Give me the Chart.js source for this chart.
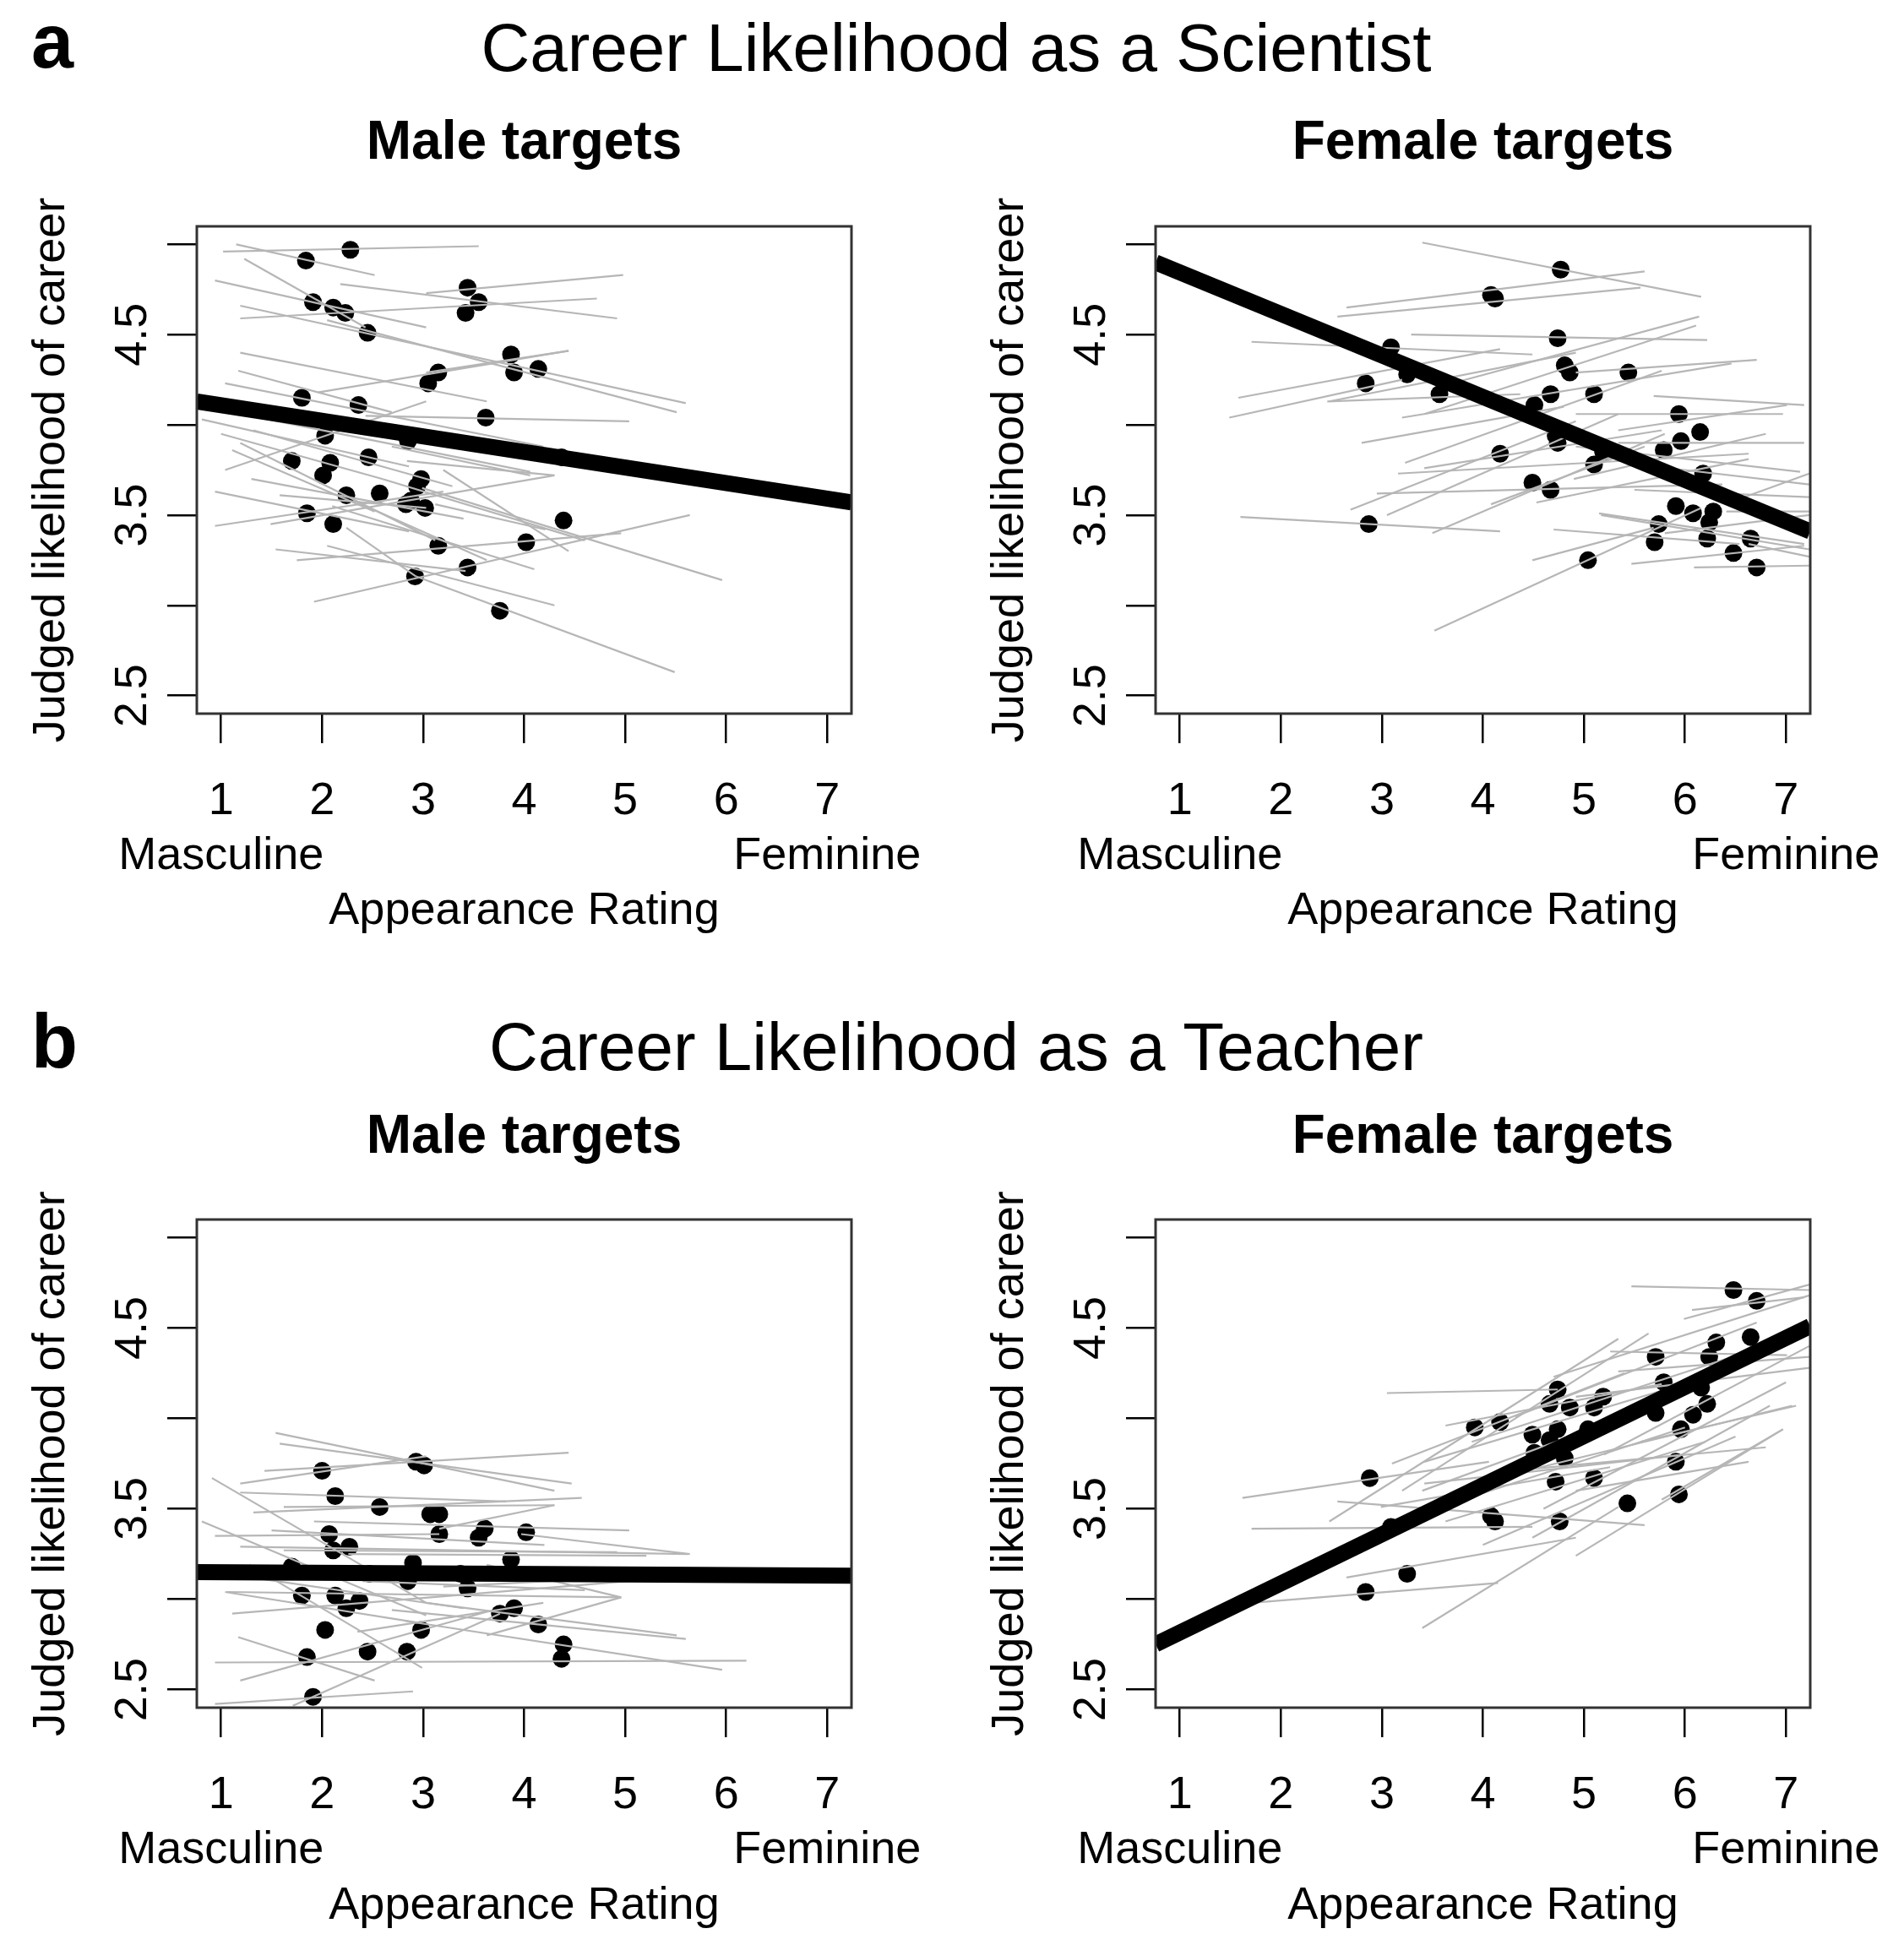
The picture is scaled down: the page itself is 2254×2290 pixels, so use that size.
<!DOCTYPE html>
<html><head><meta charset="utf-8">
<script src="https://cdn.jsdelivr.net/npm/chart.js@4/dist/chart.umd.min.js"></script>
<style>
html,body{margin:0;padding:0;background:#fff;}
body{width:2254px;height:2290px;position:relative;overflow:hidden;font-family:"Liberation Sans",Arial,Helvetica,sans-serif;}
canvas{position:absolute;}
.t{position:absolute;white-space:nowrap;line-height:1;color:#000;}
</style></head><body>
<div class="t" style="left:37px;top:4px;font-size:90px;font-weight:bold;">a</div>
<div class="t" style="left:0;width:2264px;text-align:center;top:17px;font-size:80px;">Career Likelihood as a Scientist</div>
<div class="t" style="left:37px;top:1188px;font-size:90px;font-weight:bold;">b</div>
<div class="t" style="left:0;width:2264px;text-align:center;top:1200px;font-size:80px;">Career Likelihood as a Teacher</div>
<canvas id="c1" width="1118" height="993" style="left:0px;top:120px;"></canvas>
<canvas id="c2" width="1118" height="993" style="left:1135px;top:120px;"></canvas>
<canvas id="c3" width="1118" height="990" style="left:0px;top:1300px;"></canvas>
<canvas id="c4" width="1118" height="990" style="left:1135px;top:1300px;"></canvas>
<script>
// ---------- axis ticks ----------
const xTicks = [1, 2, 3, 4, 5, 6, 7];
const xTickLabels = [["1", "Masculine"], "2", "3", "4", "5", "6", ["7", "Feminine"]];
const yTicks = [2.5, 3.0, 3.5, 4.0, 4.5, 5.0];
const yTickLabels = ["2.5", "", "3.5", "", "4.5", ""];
const xRange = [0.76, 7.24];
const yRange = [2.4, 5.1];

// ---------- (a) Scientist, male targets ----------
const sciMaleX = [2.28,1.84,1.91,2.11,2.23,2.45,3.44,3.55,3.42,3.87,3.90,4.14,3.15,3.05,1.80,2.36,3.62,2.03,2.85,4.37,1.70,2.46,2.08,2.01,2.98,2.94,2.24,2.57,2.88,2.83,3.02,1.85,2.11,4.39,3.15,4.02,3.44,2.92,3.76];
const sciMaleY = [4.97,4.91,4.68,4.65,4.62,4.51,4.76,4.68,4.62,4.39,4.29,4.31,4.29,4.23,4.15,4.11,4.04,3.94,3.91,3.82,3.80,3.82,3.79,3.72,3.70,3.66,3.61,3.62,3.58,3.56,3.54,3.51,3.45,3.47,3.33,3.35,3.21,3.16,2.97];
const sciMaleLines = [
 [1.02,4.96,3.55,4.99],[1.15,5.00,2.52,4.83],[1.23,4.92,2.43,4.54],[0.94,4.80,3.03,4.54],
 [1.19,4.66,5.60,4.12],[1.19,4.59,4.72,4.70],[2.18,4.78,4.92,4.59],[3.03,4.73,4.98,4.83],
 [2.05,4.58,5.51,4.07],[1.96,4.18,4.44,4.41],[1.17,4.30,2.69,4.07],[1.04,4.23,4.19,3.88],
 [2.43,4.05,5.04,4.02],[1.04,3.75,3.03,4.13],[0.81,4.03,2.86,3.77],[1.11,4.07,4.06,3.74],
 [1.32,3.97,3.29,3.66],[1.19,3.90,3.12,3.36],[1.11,3.86,2.52,3.52],[0.94,3.63,2.86,3.41],
 [0.94,3.44,3.20,3.63],[1.49,3.45,4.30,3.72],[1.92,3.02,5.64,3.50],[1.54,3.31,3.42,3.19],
 [1.75,3.25,4.96,3.40],[2.05,3.33,4.30,3.00],[2.24,3.43,2.93,3.16],[2.93,3.16,5.49,2.63],
 [2.99,3.65,5.96,3.14],[2.84,3.80,4.30,3.72],[3.12,3.56,4.21,3.42],[3.20,3.75,4.44,3.30],
 [2.35,3.57,3.63,3.25],[2.69,3.88,4.06,3.72],[1.58,3.61,3.03,3.54],[1.19,4.40,3.63,4.13],
 [3.03,4.29,4.44,4.41],[2.52,3.97,4.40,3.83],[1.30,3.70,3.40,3.48],[2.10,3.55,4.10,3.20],
 [1.00,3.95,2.60,3.70],[2.60,3.70,4.60,3.36]
];
const sciMaleFit = [0.76, 4.13, 7.24, 3.57];

// ---------- (a) Scientist, female targets ----------
const sciFemX = [4.77,4.08,4.12,4.74,3.09,3.25,2.84,4.81,4.86,5.44,4.67,5.10,4.51,5.94,6.15,5.96,4.74,4.72,5.79,4.17,5.10,6.18,4.49,4.67,5.91,6.08,6.28,6.24,5.74,2.87,5.70,6.22,6.65,6.48,6.71,5.04,5.19,3.57];
const sciFemY = [4.86,4.72,4.70,4.48,4.43,4.28,4.23,4.33,4.29,4.29,4.17,4.17,4.11,4.06,3.96,3.91,3.90,3.94,3.86,3.84,3.78,3.73,3.68,3.64,3.55,3.51,3.52,3.46,3.45,3.45,3.35,3.37,3.37,3.29,3.21,3.25,3.85,4.17];
const sciFemLines = [
 [3.40,5.01,6.16,4.71],[2.65,4.65,5.60,4.85],[2.56,4.60,5.56,4.76],[3.29,4.50,6.22,4.47],
 [1.71,4.46,4.49,4.39],[1.58,4.15,4.17,4.42],[1.49,4.04,3.20,4.25],[2.46,4.13,4.37,4.17],
 [2.48,4.13,4.92,4.40],[3.63,4.22,6.14,4.60],[3.42,4.06,6.11,4.55],[4.92,4.29,6.71,4.36],
 [3.20,4.04,6.46,4.34],[4.92,4.06,6.97,4.06],[5.34,3.90,7.18,3.90],[5.34,3.97,7.01,4.11],
 [3.23,3.79,5.77,4.30],[2.69,3.53,4.92,4.02],[3.05,3.50,5.34,4.06],[3.42,3.76,5.77,3.97],
 [3.16,3.73,6.63,3.84],[4.92,3.88,7.14,3.74],[2.95,3.62,6.37,3.67],[4.08,3.56,5.60,3.88],
 [4.53,3.57,6.63,3.81],[5.15,3.51,7.18,3.34],[4.70,3.42,6.54,3.34],[3.52,2.86,6.16,3.54],
 [4.49,3.25,5.69,3.43],[5.47,3.23,7.18,3.33],[6.09,3.21,7.23,3.22],[6.54,3.59,7.23,3.73],
 [1.60,3.49,4.17,3.41],[6.63,3.34,7.23,3.27],[5.17,3.50,7.23,3.31],[6.41,3.52,7.23,3.52],
 [5.69,3.77,7.23,3.67],[5.69,4.16,7.18,4.11],[5.50,3.64,7.23,3.60],[5.80,3.40,7.23,3.50],
 [4.90,3.70,6.80,3.95],[3.50,3.40,5.80,3.95],[2.80,3.90,4.80,4.10]
];
const sciFemFit = [0.76, 4.90, 7.24, 3.41];

// ---------- (b) Teacher, male targets ----------
const eduMaleX = [2.93,3.01,2.00,2.13,2.57,3.07,3.16,2.07,3.16,3.55,3.61,4.02,2.11,2.27,1.70,2.90,3.87,2.47,2.85,3.44,1.80,2.13,2.37,2.24,3.76,3.90,4.14,2.03,2.98,4.39,4.37,1.85,2.45,2.84,1.91,3.37];
const eduMaleY = [3.76,3.74,3.71,3.57,3.51,3.47,3.47,3.36,3.36,3.34,3.39,3.37,3.27,3.29,3.18,3.20,3.22,3.14,3.10,3.06,3.02,3.02,2.99,2.95,2.92,2.95,2.86,2.83,2.83,2.75,2.67,2.68,2.71,2.71,2.46,3.14];
const eduMaleLines = [
 [1.54,3.92,4.30,3.60],[1.58,3.86,4.47,3.64],[1.43,3.71,4.44,3.81],[1.19,3.64,3.03,3.79],
 [1.19,3.59,3.82,3.54],[0.91,3.67,3.03,2.98],[1.32,3.48,4.57,3.56],[1.62,3.51,4.30,3.52],
 [1.92,3.43,5.04,3.38],[0.81,3.43,3.03,2.91],[0.94,3.35,3.16,3.36],[1.19,3.29,5.62,3.25],
 [3.16,3.39,4.30,3.52],[3.97,3.36,5.64,3.25],[2.26,3.25,5.21,3.24],[1.62,3.27,4.92,3.26],
 [1.06,3.04,4.96,3.01],[1.04,3.04,2.95,2.87],[1.11,2.92,5.04,3.10],[2.69,2.94,5.60,2.78],
 [2.82,2.88,5.96,2.61],[0.94,2.65,6.20,2.66],[1.17,2.79,2.52,2.55],[1.19,2.55,3.63,2.93],
 [1.71,2.41,3.76,2.92],[0.94,2.42,2.90,2.49],[3.03,2.98,5.51,2.80],[3.63,2.80,4.96,3.01],
 [2.35,2.82,4.19,2.98],[3.20,3.07,4.96,3.12],[1.28,3.19,2.99,2.62],[3.63,3.19,4.96,3.01],
 [1.50,3.38,4.20,3.30],[2.40,3.10,4.60,3.05],[1.30,3.12,3.40,2.95]
];
const eduMaleFit = [0.76, 3.15, 7.24, 3.13];

// ---------- (b) Teacher, female targets ----------
const eduFemX = [6.48,6.71,6.65,6.31,6.24,5.71,5.79,6.16,4.74,4.66,4.86,5.10,5.19,6.22,6.08,5.96,4.17,3.92,4.74,4.49,4.66,5.04,5.71,4.51,4.81,5.91,2.88,4.72,5.10,5.94,5.43,4.08,4.12,4.76,3.09,3.25,2.84];
const eduFemY = [4.71,4.65,4.45,4.42,4.34,4.34,4.20,4.17,4.16,4.08,4.06,4.06,4.12,4.08,4.02,3.94,3.98,3.95,3.94,3.91,3.88,3.94,4.03,3.81,3.78,3.76,3.67,3.65,3.67,3.58,3.53,3.46,3.43,3.43,3.40,3.14,3.04];
const eduFemLines = [
 [5.47,4.73,7.23,4.71],[5.99,4.55,7.23,4.74],[6.07,4.60,7.18,4.67],[3.05,4.14,4.74,4.16],
 [1.62,3.56,4.06,3.76],[2.48,3.43,5.34,4.44],[3.20,3.60,5.64,4.47],[1.71,3.39,4.49,3.40],
 [2.56,3.54,5.60,3.41],[2.65,3.12,4.92,3.34],[1.71,2.98,4.15,3.09],[3.40,2.84,5.34,3.51],
 [4.92,3.24,6.97,3.94],[4.49,3.34,6.84,4.07],[3.63,3.43,6.20,3.87],[4.06,3.66,7.06,4.07],
 [3.42,3.76,6.11,4.21],[3.89,3.87,6.63,4.37],[4.32,4.01,6.71,4.53],[4.70,4.23,7.23,4.68],
 [4.92,4.12,7.23,4.28],[5.34,4.26,7.23,4.34],[3.42,3.64,5.99,3.80],[5.56,3.87,7.10,4.07],
 [4.27,3.71,6.80,3.84],[2.99,3.51,5.26,3.73],[5.26,4.37,7.01,4.35],[4.92,3.60,6.63,3.76],
 [5.77,3.55,6.97,3.94],[3.63,3.96,5.77,4.19],[3.40,3.60,5.60,4.05],[4.00,3.30,6.50,3.90],
 [3.10,3.75,5.40,4.25],[4.60,3.50,7.00,4.20],[5.20,3.80,7.23,4.40],[3.80,3.55,6.00,3.95]
];
const eduFemFit = [0.76, 2.75, 7.24, 4.51];

// ---------- rendering ----------
const FONT = '"Liberation Sans", Arial, Helvetica, sans-serif';
Chart.defaults.font.family = FONT;

const boxPlugin = {
  id: 'rbox',
  afterDatasetsDraw(chart) {
    const {ctx, chartArea: a} = chart;
    ctx.save();
    ctx.strokeStyle = '#333';
    ctx.lineWidth = 3;
    ctx.strokeRect(a.left, a.top, a.right - a.left, a.bottom - a.top);
    ctx.restore();
  }
};

function panel(id, title, px, py, lines, fit, row) {
  const datasets = [];
  datasets.push({
    type: 'line',
    data: [{x: fit[0], y: fit[1]}, {x: fit[2], y: fit[3]}],
    borderColor: '#000', borderWidth: 19, pointRadius: 0, order: 0, clip: 0,
    borderCapStyle: 'butt', tension: 0
  });
  lines.forEach(l => datasets.push({
    type: 'line',
    data: [{x: l[0], y: l[1]}, {x: l[2], y: l[3]}],
    borderColor: 'rgb(182,182,182)', borderWidth: 2.2, pointRadius: 0, order: 1, clip: 0, tension: 0
  }));
  datasets.push({
    type: 'scatter',
    data: px.map((x, i) => ({x: x, y: py[i]})),
    backgroundColor: '#000', borderColor: '#000', borderWidth: 0, pointRadius: 10.5,
    pointHoverRadius: 10.5, order: 2, clip: 0
  });

  new Chart(document.getElementById(id), {
    type: 'scatter',
    data: {datasets},
    options: {
      responsive: false, animation: false, devicePixelRatio: 1,
      events: [],
      layout: {padding: {left: 0, top: 0, right: 110, bottom: 0}},
      plugins: {
        legend: {display: false},
        tooltip: {enabled: false}
      },
      scales: {
        x: {
          type: 'linear', position: 'bottom', min: xRange[0], max: xRange[1],
          afterBuildTicks: s => { s.ticks = xTicks.map(v => ({value: v})); },
          afterFit: s => { s.height = 268; s.paddingLeft = 0; s.paddingRight = 0; },
          ticks: {
            autoSkip: false, minRotation: 0, maxRotation: 0, padding: 37, color: '#000',
            font: {family: FONT, size: 54, lineHeight: 1.2},
            callback: (v, i) => xTickLabels[i]
          },
          grid: {display: true, drawOnChartArea: false, drawTicks: true, tickLength: 35, color: '#000', lineWidth: 2.5},
          border: {display: false},
          title: {
            display: true, text: 'Appearance Rating', color: '#000',
            font: {family: FONT, size: 54, lineHeight: 1.2},
            padding: {top: 0, bottom: row.xpb}
          }
        },
        x2: {
          type: 'linear', position: 'top', min: xRange[0], max: xRange[1],
          afterFit: s => { s.height = row.T; s.paddingLeft = 0; s.paddingRight = 0; },
          ticks: {display: false},
          grid: {display: false, drawTicks: false},
          border: {display: false},
          title: {
            display: true, text: title, color: '#000',
            font: {family: FONT, size: 64, weight: 'bold', lineHeight: 1.2},
            padding: {top: row.tpt, bottom: 0}
          }
        },
        y: {
          type: 'linear', position: 'left', min: yRange[0], max: yRange[1],
          afterBuildTicks: s => { s.ticks = yTicks.map(v => ({value: v})); },
          afterFit: s => { s.width = 233; },
          ticks: {
            autoSkip: false, minRotation: 90, maxRotation: 90, crossAlign: 'center', padding: 2.5,
            color: '#000', font: {family: FONT, size: 54},
            callback: (v, i) => yTickLabels[i]
          },
          grid: {display: true, drawOnChartArea: false, drawTicks: true, tickLength: 35, color: '#000', lineWidth: 2.5},
          border: {display: false},
          title: {
            display: true, text: 'Judged likelihood of career', color: '#000',
            font: {family: FONT, size: 54, lineHeight: 1.2},
            padding: {top: 29, bottom: 0}
          }
        }
      }
    },
    plugins: [boxPlugin]
  });
}

const topRow = {T: 148, tpt: 11.6, xpb: 1.6};
const botRow = {T: 144, tpt: 8.6, xpb: 0};
panel('c1', 'Male targets', sciMaleX, sciMaleY, sciMaleLines, sciMaleFit, topRow);
panel('c2', 'Female targets', sciFemX, sciFemY, sciFemLines, sciFemFit, topRow);
panel('c3', 'Male targets', eduMaleX, eduMaleY, eduMaleLines, eduMaleFit, botRow);
panel('c4', 'Female targets', eduFemX, eduFemY, eduFemLines, eduFemFit, botRow);
</script>
</body></html>
